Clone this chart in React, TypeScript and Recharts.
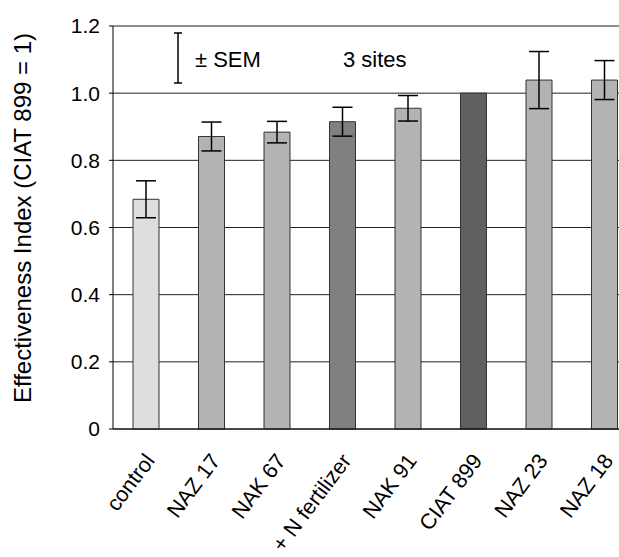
import React from "react";
import {
  BarChart,
  Bar,
  Cell,
  XAxis,
  YAxis,
  CartesianGrid,
  ErrorBar,
  ReferenceLine,
  Customized,
} from "recharts";

const strains = ["control", "NAZ 17", "NAK 67", "+ N fertilizer", "NAK 91", "CIAT 899", "NAZ 23", "NAZ 18"];
const effectiveness = [0.684, 0.871, 0.884, 0.915, 0.955, 1.0, 1.039, 1.039];
const sem = [0.055, 0.043, 0.032, 0.043, 0.038, null, 0.085, 0.058];
const yTicks = [0, 0.2, 0.4, 0.6, 0.8, 1.0, 1.2];

const BAR_COLORS = ["#dedede", "#b3b3b3", "#b3b3b3", "#808080", "#b3b3b3", "#606060", "#b3b3b3", "#b3b3b3"];
const FONT = "'Liberation Sans', Arial, sans-serif";

const data = strains.map((name, i) => ({ name, value: effectiveness[i], sem: sem[i] }));

function XTick({ x, y, payload }: any) {
  const px = x + 10;
  const py = y + 30;
  return (
    <text
      x={px}
      y={py}
      transform={`rotate(-53, ${px}, ${py})`}
      textAnchor="end"
      fontFamily={FONT}
      fontSize={21.5}
      fill="#000"
    >
      {payload.value}
    </text>
  );
}

function Notes() {
  return (
    <g fontFamily={FONT} fill="#000">
      <text x={22} y={218} transform="rotate(-90, 22, 218)" textAnchor="middle" dominantBaseline="central" fontSize={24}>
        Effectiveness Index (CIAT 899 = 1)
      </text>
      <line x1={178} y1={33} x2={178} y2={83} stroke="#000" strokeWidth={1.5} />
      <line x1={174} y1={33} x2={182} y2={33} stroke="#000" strokeWidth={1.5} />
      <line x1={174} y1={83} x2={182} y2={83} stroke="#000" strokeWidth={1.5} />
      <text x={195} y={67} fontSize={22}>± SEM</text>
      <text x={343} y={67} fontSize={22}>3 sites</text>
    </g>
  );
}

export default function App() {
  return (
    <div style={{ position: "absolute", left: 0, top: 0, width: 619, height: 557, overflow: "hidden", background: "#fff" }}>
      <BarChart width={640} height={557} data={data} margin={{ top: 26, right: 3, left: 0, bottom: 0 }} barSize={26}>
        <CartesianGrid vertical={false} stroke="#222" />
        <XAxis
          dataKey="name"
          height={128}
          interval={0}
          tickLine={false}
          tickSize={0}
          tick={<XTick />}
          axisLine={{ stroke: "#000" }}
        />
        <YAxis
          width={113}
          domain={[0, 1.2]}
          ticks={yTicks}
          interval={0}
          tickSize={4}
          tickMargin={9}
          tickFormatter={(v: number) => (v === 0 ? "0" : v.toFixed(1))}
          tick={{ fill: "#000", fontSize: 21, fontFamily: FONT }}
          axisLine={{ stroke: "#000" }}
          tickLine={{ stroke: "#000" }}
        />
        <ReferenceLine y={1.2} stroke="#8a8a8a" />
        <Bar dataKey="value" stroke="#333" strokeWidth={1} isAnimationActive={false}>
          {data.map((d, i) => (
            <Cell key={d.name} fill={BAR_COLORS[i]} />
          ))}
          <ErrorBar dataKey="sem" width={10} stroke="#000" strokeWidth={1.5} isAnimationActive={false} />
        </Bar>
        <Customized component={Notes} />
      </BarChart>
    </div>
  );
}
